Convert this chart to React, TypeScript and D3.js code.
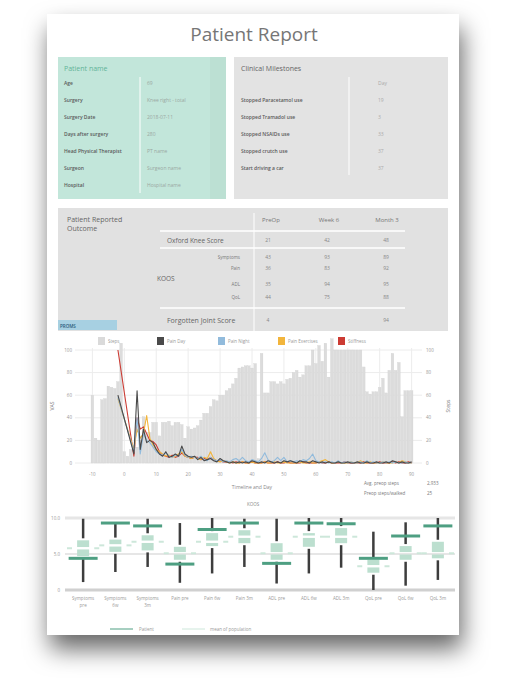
import React from "react";
import * as d3 from "d3";

const FONT = "'Open Sans', 'Noto Sans', sans-serif";

// info tables
const patientRows = ["Age", "Surgery", "Surgery Date", "Days after surgery", "Head Physical Therapist", "Surgeon", "Hospital"];
const patientValues = ["69", "Knee right - total", "2018-07-11", "280", "PT name", "Surgeon name", "Hospital name"];
const milestoneRows = ["Stopped Paracetamol use", "Stopped Tramadol use", "Stopped NSAIDs use", "Stopped crutch use", "Start driving a car"];
const milestoneDays = [19, 3, 33, 37, 37];

// PROMs
const promPeriods = ["PreOp", "Week 6", "Month 3"];
const oxfordScores = ["21", "42", "48"];
const koosSubscales = ["Symptoms", "Pain", "ADL", "QoL"];
const koosScores = [["43", "93", "89"], ["36", "83", "92"], ["35", "94", "95"], ["44", "75", "88"]];
const forgottenJoint = ["4", "", "94"];

// daily chart
const legendItems = ["Steps", "Pain Day", "Pain Night", "Pain Exercises", "Stiffness"];
const legendColors = ["#dadada", "#4a4a4a", "#92bbdc", "#f2b53c", "#cc3b33"];
const stepDays = d3.range(-10, 91);
const steps = [
    60, 22, 20, 56, 57, 68, 67, 66, 72, 106,
    10, 6, 12, 16, 14, 20, 41, 27, 27, 36,
    36, 24, 36, 36, 37, 33, 36, 36, 34, 22,
    32, 30, 31, 33, 38, 44, 44, 50, 56, 55,
    60, 60, 64, 66, 70, 75, 84, 85, 86, 86,
    84, 88, 4, 97, 62, 62, 72, 72, 70, 72,
    70, 74, 75, 80, 82, 76, 78, 86, 86, 100,
    88, 104, 90, 106, 76, 110, 100, 100, 100, 100,
    100, 100, 100, 100, 100, 85, 63, 61, 63, 63,
    67, 75, 62, 82, 97, 82, 89, 41, 64, 64,
    64,
];
const lineDays = [-2, ...d3.range(3, 91)];
const painDay = [
    60,
    8, 64, 12, 30, 18, 20, 18, 12, 8, 6,
    10, 5, 6, 8, 6, 15, 8, 6, 5, 6,
    3, 5, 2, 3, 4, 2, 1, 4, 2, 1,
    0, 1, 0, 1, 0, 1, 0, 2, 1, 0,
    1, 0, 2, 1, 0, 1, 0, 2, 1, 2,
    1, 0, 2, 1, 1, 0, 2, 1, 0, 1,
    0, 1, 0, 0, 1, 0, 0, 1, 0, 0,
    1, 0, 0, 1, 0, 0, 1, 0, 0, 1,
    0, 2, 1, 0, 1, 0, 0, 1,
];
const painNight = [
    58,
    10, 40, 8, 26, 20, 18, 14, 10, 8, 7,
    9, 6, 5, 7, 6, 12, 7, 5, 6, 5,
    4, 6, 3, 2, 5, 3, 2, 3, 1, 2,
    1, 3, 4, 2, 5, 2, 1, 3, 2, 1,
    4, 9, 3, 1, 2, 5, 2, 5, 1, 2,
    1, 2, 1, 3, 2, 4, 8, 2, 1, 0,
    1, 0, 1, 0, 2, 0, 1, 0, 1, 0,
    0, 1, 0, 2, 0, 1, 0, 0, 1, 0,
    1, 0, 1, 0, 0, 1, 0, 0,
];
const painExercises = [
    57,
    12, 30, 22, 26, 42, 22, 16, 12, 10, 8,
    6, 7, 5, 6, 8, 10, 6, 5, 4, 5,
    4, 3, 5, 4, 10, 4, 2, 1, 2, 1,
    0, 1, 0, 0, 1, 0, 0, 1, 0, 0,
    0, 1, 0, 0, 1, 0, 0, 1, 0, 0,
    0, 0, 1, 0, 0, 1, 0, 0, 1, 2,
    3, 1, 0, 0, 1, 0, 0, 0, 1, 0,
    0, 2, 0, 0, 1, 0, 0, 0, 1, 0,
    0, 0, 1, 0, 2, 1, 0, 0,
];
const stiffness = [
    100,
    6, 40, 30, 32, 26, 20, 19, 16, 10, 7,
    6, 5, 7, 5, 6, 9, 6, 5, 4, 5,
    5, 3, 4, 3, 5, 3, 2, 2, 1, 1,
    1, 0, 1, 0, 1, 0, 0, 1, 0, 0,
    0, 1, 0, 0, 0, 1, 0, 0, 1, 0,
    0, 0, 0, 1, 0, 0, 0, 0, 1, 0,
    0, 1, 0, 0, 0, 0, 1, 0, 0, 0,
    0, 0, 1, 0, 0, 0, 0, 1, 0, 0,
    0, 1, 0, 1, 0, 0, 1, 0,
];
const dayTicks = [-10, 0, 10, 20, 30, 40, 50, 60, 70, 80, 90];
const pctTicks = [0, 20, 40, 60, 80, 100];
const statLabels = ["Avg. preop steps", "Preop steps/walked"];
const statValues = ["2,933", "25"];

// KOOS box chart
const koosCats = ["Symptoms pre", "Symptoms 6w", "Symptoms 3m", "Pain pre", "Pain 6w", "Pain 3m", "ADL pre", "ADL 6w", "ADL 3m", "QoL pre", "QoL 6w", "QoL 3m"];
const koosPatient = [4.4, 9.3, 8.9, 3.6, 8.4, 9.3, 3.7, 9.3, 9.2, 4.4, 7.5, 8.9];
const koosMin = [1.1, 2.5, 3.2, 1.0, 2.3, 3.2, 0.9, 2.3, 3.1, 0.0, 0.6, 1.4];
const koosMax = [9.9, 9.3, 9.9, 9.3, 10.0, 9.9, 9.9, 10.0, 10.0, 8.1, 9.4, 10.0];
const koosQ1 = [4.7, 5.3, 5.5, 4.2, 6.1, 6.5, 4.2, 6.0, 6.5, 2.4, 4.2, 4.4];
const koosQ3 = [6.9, 7.0, 7.6, 6.0, 7.9, 8.3, 6.5, 7.9, 8.6, 4.2, 6.1, 6.7];
const koosMean = [5.8, 6.2, 6.7, 5.1, 6.7, 7.4, 5.1, 7.4, 7.4, 3.3, 5.1, 5.1];
const koosTicks = [0, 5, 10];

const GREEN = "#4e9f82";
const LIGHT_GREEN = "#bcdfcf";

const App: React.FC = () => {
    const x = d3.scaleLinear().domain([-12, 92]).range([86, 418]);
    const y = d3.scaleLinear().domain([0, 100]).range([463, 350]);
    const barW = x(1) - x(0) - 0.5;

    const line = (vals: number[]) =>
        d3.line<number>()
            .x((_, i) => x(lineDays[i]))
            .y((d) => y(d))(vals) || "";

    const series = [
        {vals: stiffness, color: legendColors[4]},
        {vals: painExercises, color: legendColors[3]},
        {vals: painNight, color: legendColors[2]},
        {vals: painDay, color: legendColors[1]},
    ];

    const kx = d3.scaleBand().domain(koosCats).range([67, 454]);
    const ky = d3.scaleLinear().domain([0, 10]).range([590, 518]);
    const bw = kx.bandwidth();

    const legendX = [98, 157, 218, 278, 338];

    return (
        <svg width={506} height={691} style={{position: "absolute", left: 0, top: 0, fontFamily: FONT}}>
            <defs>
                <filter id="pageShadow" x="-20%" y="-20%" width="140%" height="150%">
                    <feDropShadow dx="3" dy="14" stdDeviation="12" floodColor="#000" floodOpacity="0.6"/>
                </filter>
            </defs>
            <rect width={506} height={691} fill="#ffffff"/>
            <rect x={47} y={14} width={412} height={621} fill="#ffffff" filter="url(#pageShadow)"/>

            <text x={254} y={41} textAnchor="middle" fontSize={19} fill="#767676">Patient Report</text>

            {/* patient info */}
            <rect x={58} y={57} width={168} height={142} fill="#c2e6da"/>
            <rect x={210} y={57} width={16} height={142} fill="#bce0d3"/>
            <text x={64} y={71} fontSize={7} fill="#63b499">Patient name</text>
            <line x1={140} x2={140} y1={77} y2={193} stroke="#ffffff" strokeWidth={1}/>
            {patientRows.map((r, i) => (
                <g key={r}>
                    <text x={64} y={85 + i * 17} fontSize={5} fontWeight={600} fill="#5a5a5a">{r}</text>
                    <text x={147} y={85 + i * 17} fontSize={5} fill="#9aa8a2">{patientValues[i]}</text>
                </g>
            ))}

            {/* milestones */}
            <rect x={234} y={57} width={214} height={142} fill="#e3e3e3"/>
            <text x={241} y={71} fontSize={7} fill="#666">Clinical Milestones</text>
            <line x1={349} x2={349} y1={77} y2={175} stroke="#ffffff" strokeWidth={1}/>
            <text x={378} y={85} fontSize={5} fill="#aaa">Day</text>
            {milestoneRows.map((r, i) => (
                <g key={r}>
                    <text x={241} y={102 + i * 17} fontSize={5} fontWeight={600} fill="#5a5a5a">{r}</text>
                    <text x={378} y={102 + i * 17} fontSize={5} fill="#aaa">{milestoneDays[i]}</text>
                </g>
            ))}

            {/* PROMs */}
            <rect x={58} y={208} width={390} height={123} fill="#e1e1e1"/>
            <text x={67} y={222} fontSize={7} fill="#666">Patient Reported</text>
            <text x={67} y={231} fontSize={7} fill="#666">Outcome</text>
            <line x1={254} x2={254} y1={213} y2={331} stroke="#ffffff" strokeWidth={1}/>
            {[231, 248, 308].map((ly) => (
                <line key={ly} x1={160} x2={405} y1={ly} y2={ly} stroke="#ffffff" strokeWidth={1.3}/>
            ))}
            {promPeriods.map((p, j) => (
                <g key={p}>
                    <text x={271 + j * 58} y={222} fontSize={6} textAnchor="middle" fill="#777">{p}</text>
                    <text x={268 + j * 59} y={242} fontSize={5} textAnchor="middle" fill="#888">{oxfordScores[j]}</text>
                    {koosScores.map((row, k) => (
                        <text key={k} x={268 + j * 59} y={[259, 270, 286, 299][k]} fontSize={5} textAnchor="middle" fill="#888">{row[j]}</text>
                    ))}
                    <text x={268 + j * 59} y={322} fontSize={5} textAnchor="middle" fill="#888">{forgottenJoint[j]}</text>
                </g>
            ))}
            <text x={167} y={243} fontSize={6.5} fill="#666">Oxford Knee Score</text>
            <text x={157} y={281} fontSize={6.5} fill="#666">KOOS</text>
            {koosSubscales.map((s, k) => (
                <text key={s} x={240} y={[259, 270, 286, 299][k]} fontSize={4.5} textAnchor="end" fill="#777">{s}</text>
            ))}
            <text x={167} y={323} fontSize={7} fill="#666">Forgotten Joint Score</text>
            <rect x={58} y={320} width={59} height={10} fill="#a7d0e2"/>
            <text x={60} y={327.5} fontSize={4.5} fill="#2a5a7a" fontWeight={600}>PROMS</text>

            {/* legend */}
            {legendItems.map((l, i) => (
                <g key={l}>
                    <rect x={legendX[i]} y={337} width={7} height={8} fill={legendColors[i]}/>
                    <text x={legendX[i] + 10} y={343} fontSize={4.5} fill="#999">{l}</text>
                </g>
            ))}

            {/* grid */}
            {pctTicks.map((t) => (
                <g key={t}>
                    <line x1={75} x2={422} y1={y(t)} y2={y(t)} stroke="#ececec" strokeWidth={1}/>
                    <text x={72} y={y(t) + 1.6} fontSize={4.5} textAnchor="end" fill="#999">{t}</text>
                    <text x={426} y={y(t) + 1.6} fontSize={4.5} fill="#999">{t}</text>
                </g>
            ))}
            {dayTicks.map((t) => (
                <g key={t}>
                    <line x1={x(t)} x2={x(t)} y1={348} y2={463} stroke="#ececec" strokeWidth={1}/>
                    <text x={x(t)} y={476} fontSize={4.5} textAnchor="middle" fill="#999">{t}</text>
                </g>
            ))}
            {stepDays.map((d, i) => (
                <rect key={d} x={x(d) - barW / 2} y={y(steps[i])} width={barW} height={y(0) - y(steps[i])}
                      fill="#dcdcdc" stroke="#d0d0d0" strokeWidth={0.3}/>
            ))}
            {series.map((s) => (
                <path key={s.color} d={line(s.vals)} fill="none" stroke={s.color} strokeWidth={1.1} strokeLinejoin="round"/>
            ))}
            <text transform="translate(54,406) rotate(-90)" fontSize={5} textAnchor="middle" fill="#777">VAS</text>
            <text transform="translate(450,406) rotate(-90)" fontSize={5} textAnchor="middle" fill="#777">Steps</text>
            <text x={252} y={489} fontSize={5} textAnchor="middle" fill="#888">Timeline and Day</text>
            {statLabels.map((s, i) => (
                <g key={s}>
                    <text x={364} y={485 + i * 10} fontSize={4.5} fill="#777">{s}</text>
                    <text x={427} y={485 + i * 10} fontSize={4.5} fill="#777">{statValues[i]}</text>
                </g>
            ))}

            {/* KOOS boxes */}
            <text x={253} y={506} fontSize={4.5} textAnchor="middle" fill="#888">KOOS</text>
            {koosTicks.map((t) => (
                <g key={t}>
                    <line x1={65} x2={455} y1={ky(t)} y2={ky(t)} stroke={t === 0 ? "#d0d0d0" : "#e6e6e6"} strokeWidth={t === 5 ? 2 : 3}/>
                    <text x={60} y={ky(t) + 1.6} fontSize={4.5} textAnchor="end" fill="#999">{t === 0 ? "0" : t.toFixed(1)}</text>
                </g>
            ))}
            {koosCats.map((c, i) => {
                const cx = (kx(c) || 0) + bw / 2;
                const words = c.split(" ");
                const twoLines = words[0].length > 5;
                return (
                    <g key={c}>
                        <line x1={cx - bw / 2} x2={cx - bw / 2 + 5} y1={ky(koosMean[i])} y2={ky(koosMean[i])} stroke="#cde7da" strokeWidth={2}/>
                        <line x1={cx + bw / 2 - 5} x2={cx + bw / 2} y1={ky(koosMean[i])} y2={ky(koosMean[i])} stroke="#cde7da" strokeWidth={2}/>
                        <line x1={cx} x2={cx} y1={ky(koosMax[i])} y2={ky(koosQ3[i]) - 2} stroke="#3d3d3d" strokeWidth={2.5}/>
                        <line x1={cx} x2={cx} y1={ky(koosQ1[i]) + 2} y2={ky(koosMin[i])} stroke="#3d3d3d" strokeWidth={2.5}/>
                        <rect x={cx - 6} y={ky(koosQ3[i])} width={12} height={ky(koosMean[i]) - ky(koosQ3[i]) - 1.2} fill={LIGHT_GREEN}/>
                        <rect x={cx - 6} y={ky(koosMean[i]) + 1.2} width={12} height={ky(koosQ1[i]) - ky(koosMean[i]) - 1.2} fill={LIGHT_GREEN}/>
                        <line x1={cx - 14.5} x2={cx + 14.5} y1={ky(koosPatient[i])} y2={ky(koosPatient[i])} stroke={GREEN} strokeWidth={3}/>
                        {twoLines ? (
                            <>
                                <text x={cx} y={600} fontSize={4.5} textAnchor="middle" fill="#999">{words[0]}</text>
                                <text x={cx} y={607} fontSize={4.5} textAnchor="middle" fill="#999">{words[1]}</text>
                            </>
                        ) : (
                            <text x={cx} y={600} fontSize={4.5} textAnchor="middle" fill="#999">{c}</text>
                        )}
                    </g>
                );
            })}
            <line x1={110} x2={133} y1={629} y2={629} stroke={GREEN} strokeWidth={1}/>
            <text x={139} y={631} fontSize={4.5} fill="#999">Patient</text>
            <line x1={182} x2={205} y1={629} y2={629} stroke="#cde7da" strokeWidth={1}/>
            <text x={210} y={631} fontSize={4.5} fill="#999">mean of population</text>
        </svg>
    );
};

export default App;
